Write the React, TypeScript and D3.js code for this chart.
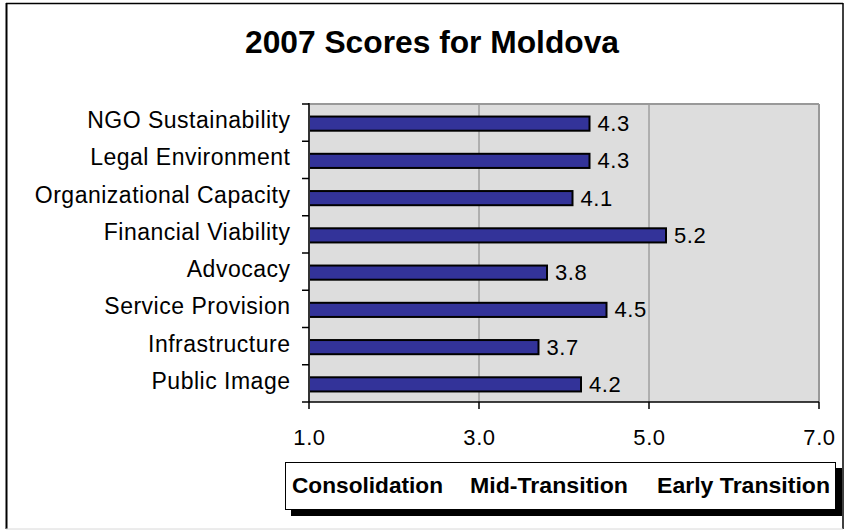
import React from "react";
import * as d3 from "d3";

const categories = [
  "NGO Sustainability",
  "Legal Environment",
  "Organizational Capacity",
  "Financial Viability",
  "Advocacy",
  "Service Provision",
  "Infrastructure",
  "Public Image",
];
const scores = [4.3, 4.3, 4.1, 5.2, 3.8, 4.5, 3.7, 4.2];
const xTicks = [1, 3, 5, 7];
const gridTicks = [3, 5];
const stageLabels = ["Consolidation", "Mid-Transition", "Early Transition"];
const title = "2007 Scores for Moldova";

const W = 847;
const H = 531;
const FONT = "'Liberation Sans', Arial, Helvetica, sans-serif";

export default function App() {
  const left = 309;
  const right = 819;
  const top = 104;
  const bottom = 402;

  const x = d3.scaleLinear().domain([1, 7]).range([left, right]);
  const y = d3
    .scaleBand<string>()
    .domain(categories)
    .range([top, bottom])
    .paddingInner(0.62)
    .paddingOuter(0.31);
  const step = y.step();
  const bw = y.bandwidth();

  const legendPos = [
    { x: 292, len: 151 },
    { x: 470, len: 158 },
    { x: 657, len: 173 },
  ];

  return (
    <div style={{ position: "absolute", left: 0, top: 0 }}>
      <svg width={W} height={H} style={{ display: "block", background: "#fff" }}>
        {/* outer border */}
        <line x1={6} y1={3.5} x2={843} y2={3.5} stroke="#000" strokeWidth={1.5} />
        <line x1={6.5} y1={3} x2={6.5} y2={529} stroke="#000" strokeWidth={2} />
        <line x1={843} y1={3} x2={843} y2={529} stroke="#000" strokeWidth={1.5} />
        <line x1={6} y1={529} x2={843} y2={529} stroke="#d8d8d8" strokeWidth={1} />

        {/* title */}
        <text
          x={432}
          y={53}
          textAnchor="middle"
          fontFamily={FONT}
          fontWeight="bold"
          fontSize={31}
          textLength={374}
          lengthAdjust="spacingAndGlyphs"
          fill="#000"
        >
          {title}
        </text>

        {/* plot background */}
        <rect x={left} y={top} width={right - left} height={bottom - top} fill="#dddddd" />
        {gridTicks.map((t) => (
          <line key={t} x1={x(t)} x2={x(t)} y1={top} y2={bottom} stroke="#808080" strokeWidth={1} />
        ))}
        <line x1={left} x2={right} y1={top} y2={top} stroke="#999" strokeWidth={2} />
        <line x1={right} x2={right} y1={top} y2={bottom} stroke="#999" strokeWidth={2} />

        {/* bars */}
        {categories.map((c, i) => (
          <rect
            key={c}
            x={x(1)}
            y={y(c)! + 1}
            width={x(scores[i]) - x(1)}
            height={bw}
            fill="#333399"
            stroke="#000"
            strokeWidth={2}
          />
        ))}

        {/* value labels */}
        {categories.map((c, i) => (
          <text
            key={c}
            x={x(scores[i]) + 8}
            y={y(c)! + 1 + bw / 2 + 7.5}
            fontFamily={FONT}
            fontSize={22}
            letterSpacing={0.6}
            fill="#000"
          >
            {scores[i].toFixed(1)}
          </text>
        ))}

        {/* y axis */}
        <line x1={left} x2={left} y1={top - 1} y2={bottom} stroke="#333" strokeWidth={2} />
        {d3.range(categories.length + 1).map((i) => (
          <line
            key={i}
            x1={left - 7}
            x2={left}
            y1={top + i * step}
            y2={top + i * step}
            stroke="#000"
            strokeWidth={1.5}
          />
        ))}
        {categories.map((c) => (
          <text
            key={c}
            x={290.5}
            y={y(c)! + bw / 2 + 5.5}
            textAnchor="end"
            fontFamily={FONT}
            fontSize={23}
            letterSpacing={0.5}
            fill="#000"
          >
            {c}
          </text>
        ))}

        {/* x axis */}
        <line x1={left} x2={right} y1={bottom} y2={bottom} stroke="#000" strokeWidth={1.5} />
        {xTicks.map((t) => (
          <g key={t}>
            <line x1={x(t)} x2={x(t)} y1={bottom} y2={bottom + 7} stroke="#000" strokeWidth={1.5} />
            <text
              x={x(t) + 0.5}
              y={445}
              textAnchor="middle"
              fontFamily={FONT}
              fontSize={22}
              letterSpacing={0.6}
              fill="#000"
            >
              {t.toFixed(1)}
            </text>
          </g>
        ))}

        {/* stage legend box */}
        <rect x={291} y={468} width={551} height={48} fill="#000" />
        <rect x={285.5} y={462.5} width={550} height={47} fill="#fff" stroke="#000" strokeWidth={1} />
        {stageLabels.map((s, i) => (
          <text
            key={s}
            x={legendPos[i].x}
            y={492.5}
            fontFamily={FONT}
            fontWeight="bold"
            fontSize={22}
            textLength={legendPos[i].len}
            lengthAdjust="spacingAndGlyphs"
            fill="#000"
          >
            {s}
          </text>
        ))}
      </svg>
    </div>
  );
}
